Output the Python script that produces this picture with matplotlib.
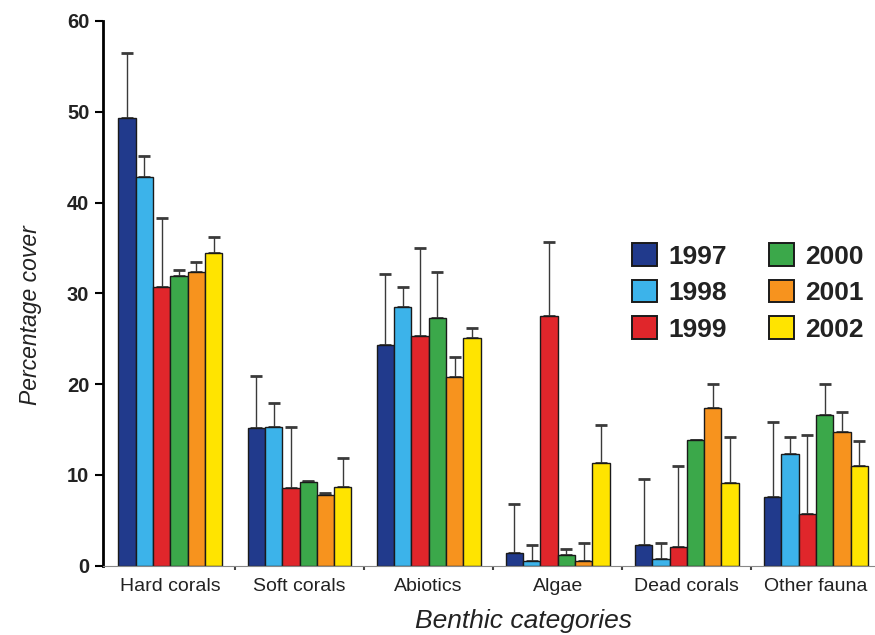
import numpy as np
import matplotlib
matplotlib.use("Agg")
import matplotlib.pyplot as plt
from matplotlib.patches import Patch

plt.rcParams['font.family'] = ['Liberation Sans', 'DejaVu Sans']

categories = ["Hard corals", "Soft corals", "Abiotics", "Algae", "Dead corals", "Other fauna"]
years = ["1997", "1998", "1999", "2000", "2001", "2002"]
colors = ['#213a8c', '#3cb3ea', '#e0262b', '#3ba84a', '#f7931e', '#ffe400']

# mean percentage cover per year, one value per category
cover = {
    "1997": [49.3, 15.2, 24.3, 1.4, 2.3, 7.6],
    "1998": [42.8, 15.3, 28.5, 0.5, 0.7, 12.3],
    "1999": [30.7, 8.6, 25.3, 27.5, 2.1, 5.7],
    "2000": [31.9, 9.2, 27.3, 1.2, 13.8, 16.6],
    "2001": [32.3, 7.8, 20.8, 0.5, 17.4, 14.7],
    "2002": [34.5, 8.7, 25.1, 11.3, 9.1, 11.0],
}
# upper error (standard deviation)
err = {
    "1997": [7.2, 5.7, 7.8, 5.4, 7.3, 8.2],
    "1998": [2.3, 2.6, 2.2, 1.8, 1.8, 1.9],
    "1999": [7.6, 6.7, 9.7, 8.2, 8.9, 8.7],
    "2000": [0.7, 0.1, 5.1, 0.6, 0.1, 3.4],
    "2001": [1.1, 0.2, 2.2, 2.0, 2.6, 2.2],
    "2002": [1.7, 3.2, 1.1, 4.2, 5.1, 2.7],
}

fig = plt.figure(figsize=(8.75, 6.35), dpi=100)
ax = fig.add_axes([0.118, 0.109, 0.882, 0.858])

x = np.arange(len(categories))
width = 0.134
for i, yr in enumerate(years):
    pos = x + (i - 2.5) * width
    vals = np.array(cover[yr])
    up = np.array(err[yr])
    ax.bar(pos, vals, width, color=colors[i], edgecolor='#1a1a1a', linewidth=1.0, zorder=2)
    ax.errorbar(pos, vals, yerr=[np.zeros_like(up), up], fmt='none',
                ecolor='#3a3a3a', elinewidth=1.0, capsize=4, capthick=2, zorder=1)

ax.set_xlim(-0.52, 5.457)
ax.set_ylim(0, 60)
ax.set_yticks(range(0, 61, 10))
ax.tick_params(axis='y', direction='out', length=6, width=1.5, labelsize=14.5, pad=4)
for lab in ax.get_yticklabels():
    lab.set_fontweight('bold')
    lab.set_color('#222222')
ax.set_xticks(x)
ax.set_xticklabels(categories, fontsize=14, color='#222222')
ax.tick_params(axis='x', length=0, pad=9)
ax.set_xticks(x[:-1] + 0.5, minor=True)
ax.tick_params(axis='x', which='minor', length=3, width=1.5, color='#444444')

for s in ['top', 'right']:
    ax.spines[s].set_visible(False)
ax.spines['left'].set_linewidth(2)
ax.spines['bottom'].set_linewidth(0.8)
ax.spines['bottom'].set_color('#888888')

ax.set_ylabel("Percentage cover", fontsize=16.5, style='italic', color='#222222')
ax.yaxis.set_label_coords(-0.08, 0.46)
ax.set_xlabel("Benthic categories", fontsize=19, style='italic', color='#222222')
ax.xaxis.set_label_coords(0.545, -0.08)

handles = [Patch(facecolor=c, edgecolor='#1a1a1a', linewidth=1.4, label=y) for c, y in zip(colors, years)]
leg = fig.legend(handles=handles, ncol=2, loc='upper left', bbox_to_anchor=(0.707, 0.638),
                 frameon=False, borderpad=0, prop={'size': 19, 'weight': 'bold'},
                 handlelength=0.95, handleheight=0.95, handletextpad=0.42,
                 columnspacing=1.6, labelspacing=0.42)
for t in leg.get_texts():
    t.set_color('#222222')

fig.savefig("out.png", dpi=100, facecolor='white')
